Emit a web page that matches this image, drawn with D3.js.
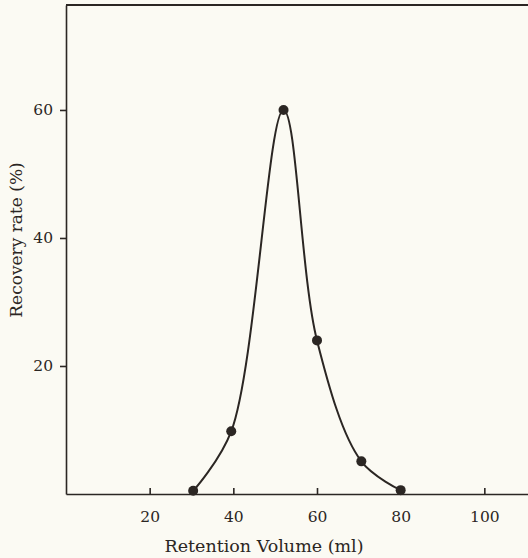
<!DOCTYPE html>
<meta charset="utf-8">
<style>
body { margin: 0; background: #fbfaf3; }
svg { display: block; }
.axis text { font-family: "DejaVu Serif", serif; font-size: 15.5px; fill: #2b2623; }
.axis path, .axis line { stroke: #2b2623; stroke-width: 1.6px; }
</style>
<body>
<script src="https://d3js.org/d3.v7.min.js"></script>
<script>

var volume   = [30.4, 39.5, 52, 60, 70.6, 80];
var recovery = [0.5, 9.8, 60, 24, 5.1, 0.6];
var xTicks = [20, 40, 60, 80, 100];
var yTicks = [20, 40, 60];

var width = 528,
    height = 558,
    margin = {top: 5, right: -40, bottom: 64, left: 66};

var svg = d3.select("body").append("svg")
    .attr("width", width)
    .attr("height", height);

var x = d3.scaleLinear()
    .domain([0, 120])
    .range([margin.left, width - margin.right]);

var y = d3.scaleLinear()
    .domain([0, 76.4])
    .range([height - margin.bottom, margin.top]);

var data = volume.map(function(v, i) { return {x: v, y: recovery[i]}; });

// frame: top line
svg.append("line")
    .attr("x1", x(0)).attr("x2", x(120))
    .attr("y1", y(76.4)).attr("y2", y(76.4))
    .attr("stroke", "#2b2623")
    .attr("stroke-width", 2);

var xAxis = svg.append("g")
    .attr("class", "axis")
    .attr("transform", "translate(0," + y(0) + ")")
    .call(d3.axisBottom(x).tickValues(xTicks).tickSizeInner(-6).tickSizeOuter(0).tickPadding(17));
xAxis.select(".domain").attr("stroke-width", 2);

var yAxis = svg.append("g")
    .attr("class", "axis")
    .attr("transform", "translate(" + x(0) + ",0)")
    .call(d3.axisLeft(y).tickValues(yTicks).tickSizeInner(6).tickSizeOuter(0).tickPadding(7));
yAxis.select(".domain").attr("stroke-width", 2);

var line = d3.line()
    .x(function(d) { return x(d.x); })
    .y(function(d) { return y(d.y); })
    .curve(d3.curveCatmullRom.alpha(0.5));

svg.append("path")
    .datum(data)
    .attr("fill", "none")
    .attr("stroke", "#2b2623")
    .attr("stroke-width", 2)
    .attr("d", line);

svg.selectAll("circle")
    .data(data)
    .enter().append("circle")
    .attr("cx", function(d) { return x(d.x); })
    .attr("cy", function(d) { return y(d.y); })
    .attr("r", 5)
    .attr("fill", "#2b2623");

svg.append("text")
    .attr("x", 264)
    .attr("y", 552)
    .attr("text-anchor", "middle")
    .style("font-family", "DejaVu Serif, serif")
    .style("font-size", "17.5px")
    .style("fill", "#2b2623")
    .text("Retention Volume (ml)");

svg.append("text")
    .attr("transform", "translate(22,240) rotate(-90)")
    .attr("text-anchor", "middle")
    .style("font-family", "DejaVu Serif, serif")
    .style("font-size", "17px")
    .style("fill", "#2b2623")
    .text("Recovery rate (%)");

</script>
